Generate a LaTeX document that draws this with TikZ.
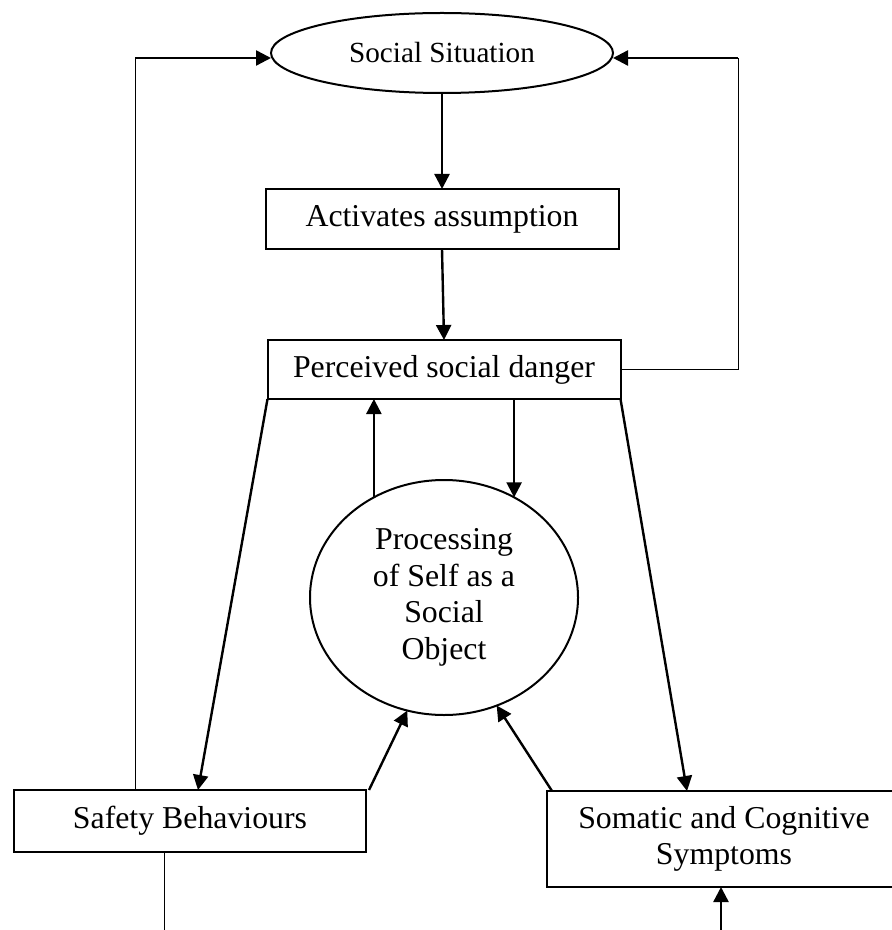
\documentclass[tikz,border=0pt]{standalone}
\usepackage{fontspec}
\setmainfont{Liberation Serif}
\usetikzlibrary{arrows.meta}
\usetikzlibrary{shapes.geometric}
\usetikzlibrary{positioning}
\usetikzlibrary{calc}
\tikzstyle{block} = [draw, rectangle, line width = 1pt, outer sep = 0pt, inner sep = 0pt, align = center]
\tikzstyle{oval} = [draw, ellipse, line width = 1pt, outer sep = 0pt, inner sep = 0pt, align = center]
\tikzstyle{arrow} = [line width = 1.2pt, -{Triangle[length = 7.5pt, width = 7.5pt]}]
\tikzstyle{link} = [line width = 0.5pt]

\begin{document}
\begin{tikzpicture}[x = 0.5pt, y = -0.5pt, font = \fontsize{15.9}{18.3}\selectfont]
	\useasboundingbox (0, 0) rectangle (892, 930);

		% Chain down the middle
		\node[oval, minimum width = 171pt, minimum height = 40pt, font = \fontsize{14.6}{17}\selectfont] (sit) at (442, 53) {Social Situation};
		\node[block, minimum width = 176.5pt, minimum height = 30pt, below = 48pt of sit] (assume) {Activates assumption};
		\node[block, minimum width = 176.5pt, minimum height = 29.5pt, below = 45.5pt of assume, xshift = 1pt] (danger) {Perceived social danger};
		\node[oval, minimum width = 134pt, minimum height = 117.5pt, below = 40.5pt of danger] (proc) {Processing \\ of Self as a \\ Social \\ Object};
		
		% Bottom boxes
		\node[block, minimum width = 176pt, minimum height = 31pt] (safe) at (190, 821) {Safety Behaviours};
		\node[block, minimum width = 177pt, minimum height = 48pt] (symp) at (724, 839) {Somatic and Cognitive \\ Symptoms};
		
		% Loose ends
		\coordinate (ltop) at (135, 58);
		\coordinate (rtop) at (738, 58);
		\coordinate (sbot) at (164, 930);
		\coordinate (ybot) at (721, 930);
		
		% Connect all nodes defined above
		\draw[arrow] (sit) -- (assume);
		\draw[arrow] (assume.south) -- (danger.north);
		\draw[arrow] (proc.125) -- (proc.125 |- danger.south);
		\draw[arrow] (proc.55 |- danger.south) -- (proc.55);
		\draw[arrow] (danger.south west) -- ($(safe.north) + (8, 0)$);
		\draw[arrow] (danger.south east) -- ($(symp.north) + (-37, 0)$);
		\draw[arrow] ($(safe.north east) + (3, 0)$) -- (proc.252);
		\draw[arrow] ($(symp.north west) + (5, 0)$) -- (proc.296);
		\draw[arrow] (ybot) -- (ybot |- symp.south);
		
		% Feedback lines
		\draw[link] ($(safe.north west) + (121, 0)$) -- (ltop);
		\draw[arrow] (ltop) -- (ltop -| sit.west);
		\draw[link] (danger.east) -| (rtop);
		\draw[arrow] (rtop) -- (rtop -| sit.east);
		\draw[link] (sbot |- safe.south) -- (sbot);
		
	\end{tikzpicture}
\end{document}
